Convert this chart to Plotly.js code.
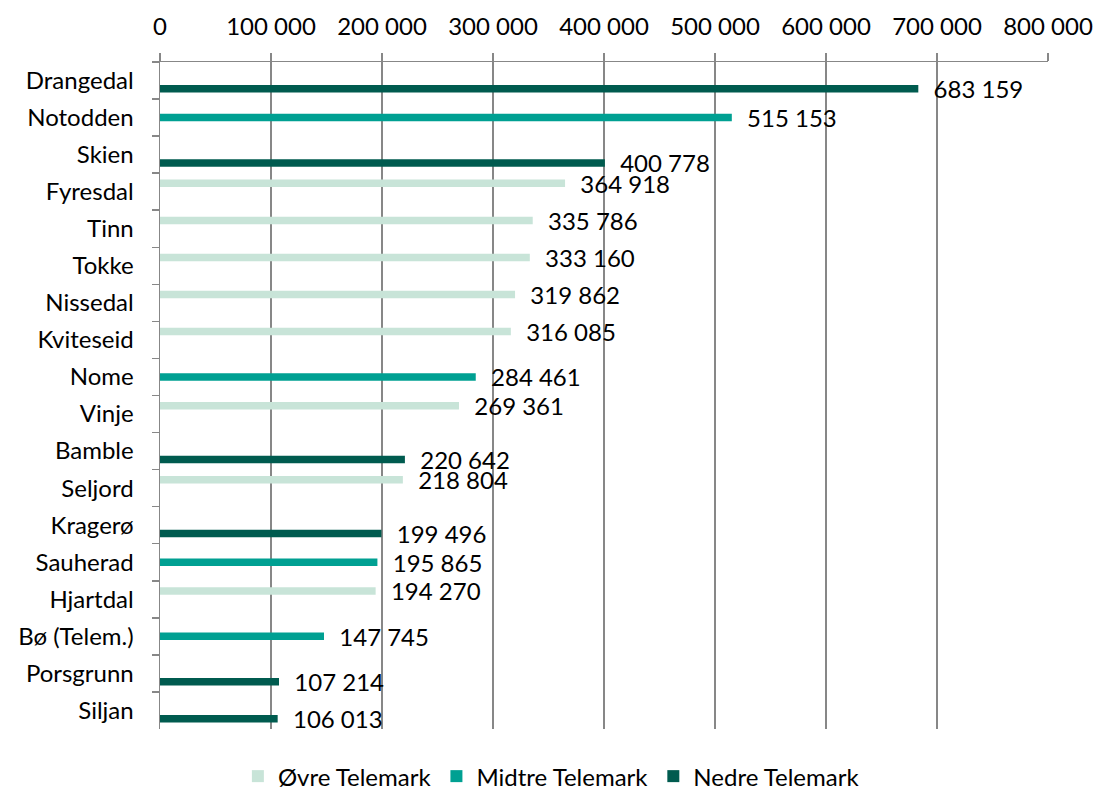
<!DOCTYPE html>
<html>
<head>
<meta charset="utf-8">
<script src="https://cdn.plot.ly/plotly-3.0.1.min.js"></script>
<style>html,body{margin:0;padding:0;background:#fff;}#chart{width:1094px;height:794px;}</style>
</head>
<body>
<div id="chart"></div>
<script>
const categories = ["Drangedal","Notodden","Skien","Fyresdal","Tinn","Tokke","Nissedal","Kviteseid","Nome","Vinje","Bamble","Seljord","Kragerø","Sauherad","Hjartdal","Bø (Telem.)","Porsgrunn","Siljan"];
const values = [683159,515153,400778,364918,335786,333160,319862,316085,284461,269361,220642,218804,199496,195865,194270,147745,107214,106013];
const regions = ["Nedre","Midtre","Nedre","Øvre","Øvre","Øvre","Øvre","Øvre","Midtre","Øvre","Nedre","Øvre","Nedre","Midtre","Øvre","Midtre","Nedre","Nedre"];
const seriesKeys = ["Øvre","Midtre","Nedre"];
const seriesNames = ["Øvre Telemark","Midtre Telemark","Nedre Telemark"];
const seriesColors = ["#C8E4D8","#00A092","#005B4F"];
const tickVals = [0,100000,200000,300000,400000,500000,600000,700000,800000];
const tickText = ["0","100 000","200 000","300 000","400 000","500 000","600 000","700 000","800 000"];

function fmt(v){ return String(v).replace(/\B(?=(\d{3})+(?!\d))/g, " "); }

const FONT = "Lato, 'Open Sans', sans-serif";
const FS = 24;
const traces = seriesKeys.map((k, i) => {
  const xs = values.map((v, j) => regions[j] === k ? v : null);
  return {
    type: "bar", orientation: "h", name: seriesNames[i],
    y: categories, x: xs,
    text: xs.map(v => v === null ? "" : "\u00A0\u00A0" + fmt(v)),
    textposition: "outside", cliponaxis: false, constraintext: "none",
    textfont: {family: FONT, size: FS, color: "#000"},
    marker: {color: seriesColors[i]},
    hoverinfo: "none"
  };
});

const layout = {
  width: 1094, height: 794,
  margin: {l: 160, r: 46, t: 62, b: 65, autoexpand: false},
  paper_bgcolor: "#fff", plot_bgcolor: "#fff",
  font: {family: FONT, size: FS, color: "#000"},
  barmode: "group", bargap: 0.325, bargroupgap: 0.1,
  showlegend: true,
  legend: {orientation: "h", x: 0.504, xref: "container", xanchor: "center",
           y: 0.022, yref: "container", yanchor: "middle",
           font: {family: FONT, size: FS, color: "#000"}, traceorder: "normal", itemwidth: 30},
  xaxis: {side: "top", range: [0, 800000], tickvals: tickVals, ticktext: tickText,
          showgrid: true, gridcolor: "#878787", gridwidth: 1.5,
          showline: true, linecolor: "#878787", linewidth: 1.5,
          ticks: "outside", ticklen: 8, tickcolor: "#878787", tickwidth: 1.5,
          ticklabelstandoff: 8,
          zeroline: false, tickfont: {family: FONT, size: FS, color: "#000"}, fixedrange: true},
  yaxis: {type: "category", categoryorder: "array", categoryarray: categories, autorange: "reversed",
          showline: true, linecolor: "#878787", linewidth: 1.5, showgrid: false,
          ticks: "outside", tickson: "boundaries", ticklen: 7, tickcolor: "#878787", tickwidth: 1.5,
          ticklabelstandoff: 20,
          tickfont: {family: FONT, size: FS, color: "#000"}, fixedrange: true}
};
Plotly.newPlot("chart", traces, layout, {displayModeBar: false, staticPlot: true});
</script>
</body>
</html>
